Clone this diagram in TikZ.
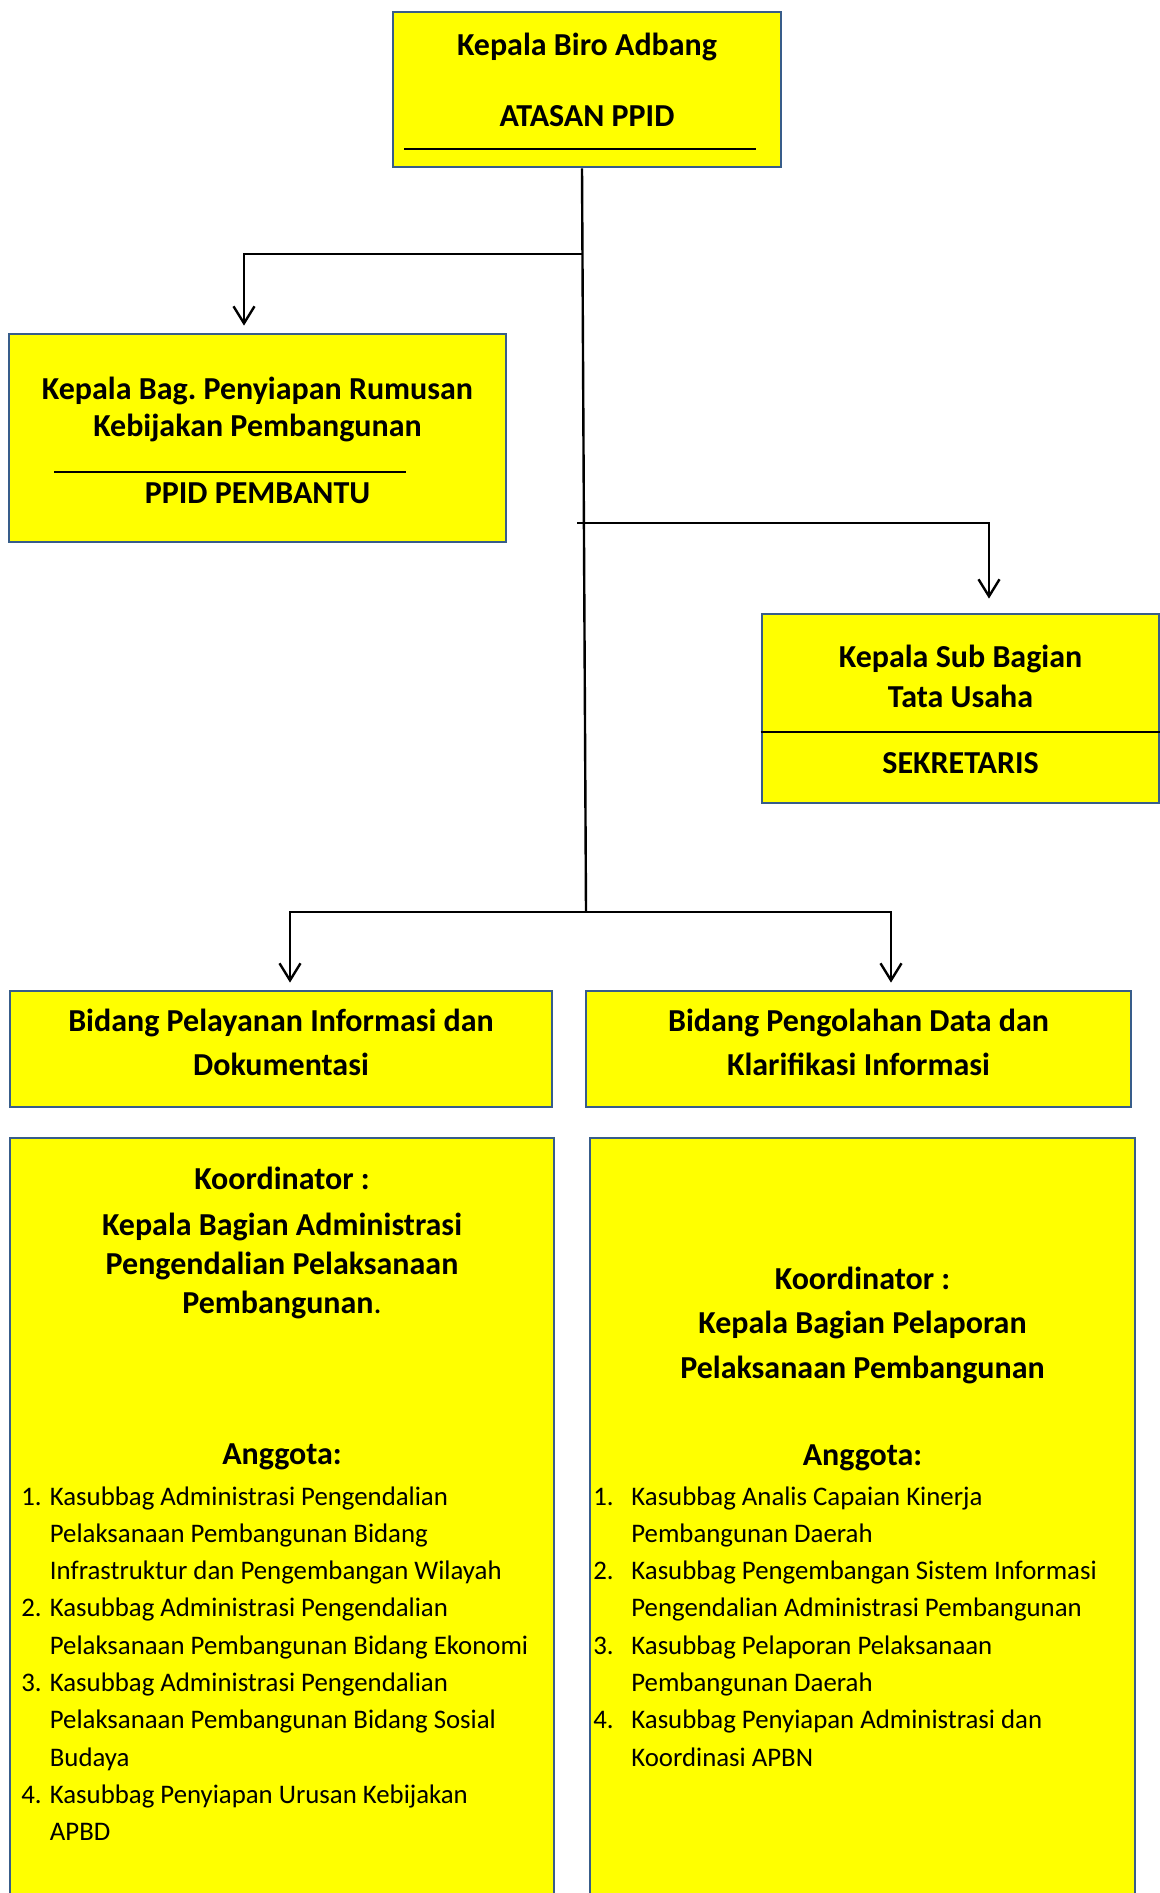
\documentclass[tikz,border=0pt]{standalone}
\usepackage{fontspec}
\setmainfont{Carlito}
\usepackage{tikz}
\usetikzlibrary{arrows.meta, positioning, calc}
\frenchspacing
\definecolor{cYellow}{RGB}{255,255,0}
\definecolor{cBorder}{RGB}{56,93,138}
\tikzset{
	unit/.style   ={rectangle, draw=cBorder, line width=1.4pt, fill=cYellow, inner sep=0pt},
	head/.style   ={align=center, inner sep=0pt, anchor=base, font=\bfseries\fontsize{16}{#1}\selectfont},
	head/.default =18.5,
	member/.style ={inner sep=0pt, anchor=base west, font=\fontsize{13.4}{18.65}\selectfont},
	rule/.style   ={line width=0.7pt},
	branch/.style ={line width=1.2pt},
	down/.style   ={-{Straight Barb[length=8.5pt, width=10.5pt]}, line width=1.2pt},
}

\begin{document}
\begin{tikzpicture}[x=0.5pt, y=-0.5pt]
	\useasboundingbox (0,0) rectangle (1160,1893);
	% boxes
	\node[unit, minimum width=194pt, minimum height=77.5pt] (atasan) at (587,89.5) {};
	\node[unit, minimum width=248.5pt, minimum height=104pt] (pembantu) at (257.5,438) {};
	\node[unit, minimum width=198.5pt, minimum height=94.5pt] (sekretaris) at (960.5,708.5) {};
	\node[unit, minimum width=271pt, minimum height=58pt] (pelayanan) at (281,1049) {};
	\node[unit, minimum width=272.5pt, minimum height=58pt] (pengolahan) at (858.5,1049) {};
	\node[unit, minimum width=272pt, minimum height=386pt] (koordA) at (282,1524) {};
	\node[unit, minimum width=272.5pt, minimum height=386pt] (koordB) at (862.5,1524) {};
	% texts (multi-line ones sit on their last line)
	\node[head] (atasanT) at (587,56) {Kepala Biro Adbang};
	\node[head] (atasanS) at (587,127) {ATASAN PPID};
	\draw[rule] (404,149) -- (756,149);
	\node[head=18.5] (pembantuT) at (257.5,437) {Kepala Bag. Penyiapan Rumusan\\Kebijakan Pembangunan};
	\draw[rule] (54,472) -- (406,472);
	\node[head] (pembantuS) at (257.5,503) {PPID PEMBANTU};
	\node[head=20] (sekretarisT) at (960.5,707) {Kepala Sub Bagian\\Tata Usaha};
	\draw[rule] (sekretaris.west |- 0,732) -- (sekretaris.east |- 0,732);
	\node[head] (sekretarisS) at (960.5,773) {SEKRETARIS};
	\node[head=22] (pelayananT) at (281,1075) {Bidang Pelayanan Informasi dan\\Dokumentasi};
	\node[head=22] (pengolahanT) at (858.5,1075) {Bidang Pengolahan Data dan\\Klarifikasi Informasi};
	\node[head] (koordAT) at (282,1189) {Koordinator :};
	\node[head=19.5] (koordAN) at (282,1313) {Kepala Bagian Administrasi\\Pengendalian Pelaksanaan\\Pembangunan\textmd{.}};
	\node[head] (anggotaA) at (282,1464) {Anggota:};
	\node[member] (listA) at (21,1505) {\begin{tabular}[t]{@{}p{14.25pt}@{}l@{}}
		1. & Kasubbag Administrasi Pengendalian\\
		   & Pelaksanaan Pembangunan Bidang\\
		   & Infrastruktur dan Pengembangan Wilayah\\
		2. & Kasubbag Administrasi Pengendalian\\
		   & Pelaksanaan Pembangunan Bidang Ekonomi\\
		3. & Kasubbag Administrasi Pengendalian\\
		   & Pelaksanaan Pembangunan Bidang Sosial\\
		   & Budaya\\
		4. & Kasubbag Penyiapan Urusan Kebijakan\\
		   & APBD
	\end{tabular}};
	\node[head] (koordBT) at (862.5,1289) {Koordinator :};
	\node[head=22.5] (koordBN) at (862.5,1378) {Kepala Bagian Pelaporan\\Pelaksanaan Pembangunan};
	\node[head] (anggotaB) at (862.5,1465) {Anggota:};
	\node[member] (listB) at (593,1505) {\begin{tabular}[t]{@{}p{19pt}@{}l@{}}
		1. & Kasubbag Analis Capaian Kinerja\\
		   & Pembangunan Daerah\\
		2. & Kasubbag Pengembangan Sistem Informasi\\
		   & Pengendalian Administrasi Pembangunan\\
		3. & Kasubbag Pelaporan Pelaksanaan\\
		   & Pembangunan Daerah\\
		4. & Kasubbag Penyiapan Administrasi dan\\
		   & Koordinasi APBN
	\end{tabular}};
	% connectors
	\coordinate (split1) at (582,254);
	\coordinate (split2) at (584,523);
	\coordinate (split3) at (586,912);
	\draw[branch] (atasan.south -| split1) -- (split3);
	\draw[down] (split1) -| ([xshift=-6.75pt, yshift=3.5pt]pembantu.north);
	\draw[down] ([xshift=-3.5pt]split2) -| ([xshift=14.25pt, yshift=7pt]sekretaris.north);
	\draw[down] (split3) -| ([xshift=4.5pt, yshift=3.5pt]pelayanan.north);
	\draw[down] (split3) -| ([xshift=16.25pt, yshift=3.5pt]pengolahan.north);
\end{tikzpicture}
\end{document}
